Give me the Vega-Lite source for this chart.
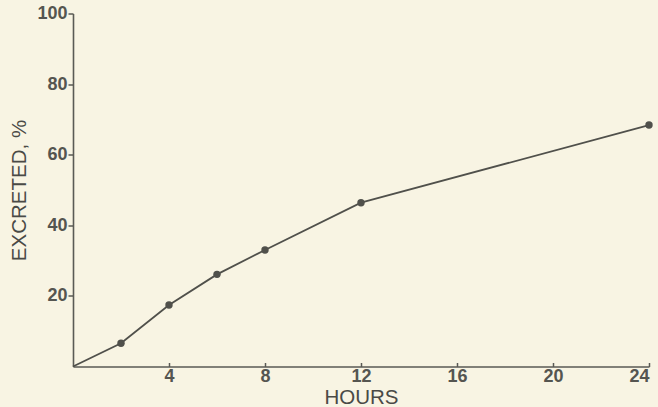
{
  "$schema": "https://vega.github.io/schema/vega-lite/v6.json",
  "autosize": "none",
  "width": 576,
  "height": 353,
  "padding": {"left": 73, "top": 13.5, "right": 9, "bottom": 40.5},
  "background": "#f8f4e3",
  "config": {
    "view": {"stroke": null},
    "axis": {
      "grid": false,
      "domainColor": "#5a5a55",
      "domainWidth": 1.6,
      "tickColor": "#5a5a55",
      "tickWidth": 1.5,
      "labelFont": "Liberation Sans",
      "labelFontWeight": "bold",
      "labelFontSize": 18,
      "labelColor": "#555550",
      "titleFont": "Liberation Sans",
      "titleFontWeight": "normal",
      "titleFontSize": 20.5,
      "titleColor": "#4a4a46"
    }
  },
  "data": {
    "values": [
      {"hours": 0, "excreted": 0},
      {"hours": 2, "excreted": 6.6},
      {"hours": 4, "excreted": 17.4},
      {"hours": 6, "excreted": 26.1},
      {"hours": 8, "excreted": 33.0},
      {"hours": 12, "excreted": 46.4},
      {"hours": 24, "excreted": 68.4}
    ]
  },
  "encoding": {
    "x": {
      "field": "hours",
      "type": "quantitative",
      "scale": {"domain": [0, 24], "nice": false},
      "axis": {
        "title": "HOURS",
        "values": [4, 8, 12, 16, 20, 24],
        "tickSize": -4,
        "labelPadding": 5,
        "titlePadding": 2
      }
    },
    "y": {
      "field": "excreted",
      "type": "quantitative",
      "scale": {"domain": [0, 100], "nice": false},
      "axis": {
        "title": "EXCRETED, %",
        "values": [20, 40, 60, 80, 100],
        "tickSize": 5,
        "labelPadding": 1,
        "titlePadding": 7
      }
    }
  },
  "layer": [
    {"mark": {"type": "line", "color": "#50504b", "strokeWidth": 1.8}},
    {
      "transform": [{"filter": "datum.hours > 0"}],
      "mark": {"type": "point", "filled": true, "color": "#50504b", "size": 55, "opacity": 1}
    }
  ]
}
